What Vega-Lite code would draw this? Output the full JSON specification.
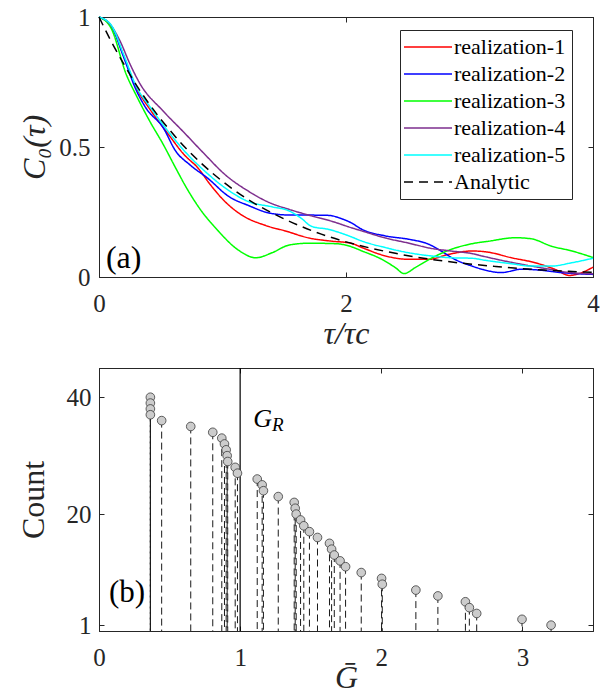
{
  "$schema": "https://vega.github.io/schema/vega-lite/v6.json",
  "padding": {"left": 16, "top": 4, "right": 3, "bottom": 0},
  "spacing": 16,
  "datasets": {
    "corr": [
      {"s":"realization-1","t":0,"c":1},{"s":"realization-1","t":0.1,"c":0.965},{"s":"realization-1","t":0.2,"c":0.85},{"s":"realization-1","t":0.3,"c":0.73},{"s":"realization-1","t":0.42,"c":0.64},{"s":"realization-1","t":0.56,"c":0.55},{"s":"realization-1","t":0.69,"c":0.47},{"s":"realization-1","t":0.8,"c":0.42},{"s":"realization-1","t":0.9,"c":0.356},{"s":"realization-1","t":1.01,"c":0.295},{"s":"realization-1","t":1.15,"c":0.24},{"s":"realization-1","t":1.35,"c":0.198},{"s":"realization-1","t":1.51,"c":0.177},{"s":"realization-1","t":1.7,"c":0.15},{"s":"realization-1","t":1.88,"c":0.138},{"s":"realization-1","t":2.04,"c":0.13},{"s":"realization-1","t":2.13,"c":0.113},{"s":"realization-1","t":2.32,"c":0.081},{"s":"realization-1","t":2.51,"c":0.068},{"s":"realization-1","t":2.67,"c":0.068},{"s":"realization-1","t":2.83,"c":0.087},{"s":"realization-1","t":3.02,"c":0.1},{"s":"realization-1","t":3.13,"c":0.097},{"s":"realization-1","t":3.34,"c":0.074},{"s":"realization-1","t":3.53,"c":0.055},{"s":"realization-1","t":3.69,"c":0.03},{"s":"realization-1","t":3.81,"c":0.006},{"s":"realization-1","t":3.91,"c":0.017},{"s":"realization-1","t":4.0,"c":0.038},
      {"s":"realization-2","t":0,"c":1},{"s":"realization-2","t":0.1,"c":0.965},{"s":"realization-2","t":0.2,"c":0.845},{"s":"realization-2","t":0.3,"c":0.72},{"s":"realization-2","t":0.38,"c":0.65},{"s":"realization-2","t":0.52,"c":0.574},{"s":"realization-2","t":0.62,"c":0.485},{"s":"realization-2","t":0.74,"c":0.43},{"s":"realization-2","t":0.88,"c":0.38},{"s":"realization-2","t":1.05,"c":0.31},{"s":"realization-2","t":1.21,"c":0.275},{"s":"realization-2","t":1.39,"c":0.245},{"s":"realization-2","t":1.56,"c":0.238},{"s":"realization-2","t":1.72,"c":0.238},{"s":"realization-2","t":1.86,"c":0.237},{"s":"realization-2","t":1.96,"c":0.225},{"s":"realization-2","t":2.04,"c":0.209},{"s":"realization-2","t":2.13,"c":0.183},{"s":"realization-2","t":2.32,"c":0.158},{"s":"realization-2","t":2.51,"c":0.145},{"s":"realization-2","t":2.67,"c":0.126},{"s":"realization-2","t":2.77,"c":0.1},{"s":"realization-2","t":2.88,"c":0.068},{"s":"realization-2","t":3.02,"c":0.042},{"s":"realization-2","t":3.1,"c":0.03},{"s":"realization-2","t":3.26,"c":0.017},{"s":"realization-2","t":3.42,"c":0.03},{"s":"realization-2","t":3.58,"c":0.026},{"s":"realization-2","t":3.74,"c":0.017},{"s":"realization-2","t":4.0,"c":0.01},
      {"s":"realization-3","t":0,"c":1},{"s":"realization-3","t":0.1,"c":0.955},{"s":"realization-3","t":0.22,"c":0.78},{"s":"realization-3","t":0.3,"c":0.7},{"s":"realization-3","t":0.41,"c":0.6},{"s":"realization-3","t":0.52,"c":0.51},{"s":"realization-3","t":0.62,"c":0.42},{"s":"realization-3","t":0.7,"c":0.35},{"s":"realization-3","t":0.82,"c":0.26},{"s":"realization-3","t":0.96,"c":0.18},{"s":"realization-3","t":1.13,"c":0.103},{"s":"realization-3","t":1.27,"c":0.074},{"s":"realization-3","t":1.4,"c":0.093},{"s":"realization-3","t":1.54,"c":0.123},{"s":"realization-3","t":1.7,"c":0.13},{"s":"realization-3","t":1.92,"c":0.128},{"s":"realization-3","t":2.04,"c":0.117},{"s":"realization-3","t":2.13,"c":0.1},{"s":"realization-3","t":2.29,"c":0.068},{"s":"realization-3","t":2.4,"c":0.036},{"s":"realization-3","t":2.47,"c":0.013},{"s":"realization-3","t":2.56,"c":0.036},{"s":"realization-3","t":2.69,"c":0.072},{"s":"realization-3","t":2.85,"c":0.106},{"s":"realization-3","t":3.02,"c":0.128},{"s":"realization-3","t":3.16,"c":0.138},{"s":"realization-3","t":3.37,"c":0.151},{"s":"realization-3","t":3.5,"c":0.147},{"s":"realization-3","t":3.66,"c":0.119},{"s":"realization-3","t":3.83,"c":0.1},{"s":"realization-3","t":4.0,"c":0.075},
      {"s":"realization-4","t":0,"c":1},{"s":"realization-4","t":0.09,"c":0.972},{"s":"realization-4","t":0.17,"c":0.908},{"s":"realization-4","t":0.25,"c":0.82},{"s":"realization-4","t":0.33,"c":0.745},{"s":"realization-4","t":0.52,"c":0.638},{"s":"realization-4","t":0.68,"c":0.56},{"s":"realization-4","t":0.84,"c":0.48},{"s":"realization-4","t":1.03,"c":0.39},{"s":"realization-4","t":1.21,"c":0.33},{"s":"realization-4","t":1.38,"c":0.286},{"s":"realization-4","t":1.54,"c":0.26},{"s":"realization-4","t":1.72,"c":0.235},{"s":"realization-4","t":1.88,"c":0.215},{"s":"realization-4","t":2.04,"c":0.19},{"s":"realization-4","t":2.13,"c":0.177},{"s":"realization-4","t":2.32,"c":0.15},{"s":"realization-4","t":2.51,"c":0.13},{"s":"realization-4","t":2.69,"c":0.11},{"s":"realization-4","t":2.85,"c":0.1},{"s":"realization-4","t":3.02,"c":0.09},{"s":"realization-4","t":3.1,"c":0.081},{"s":"realization-4","t":3.26,"c":0.064},{"s":"realization-4","t":3.42,"c":0.049},{"s":"realization-4","t":3.61,"c":0.033},{"s":"realization-4","t":3.81,"c":0.017},{"s":"realization-4","t":4.0,"c":0.012},
      {"s":"realization-5","t":0,"c":1},{"s":"realization-5","t":0.1,"c":0.968},{"s":"realization-5","t":0.2,"c":0.855},{"s":"realization-5","t":0.3,"c":0.735},{"s":"realization-5","t":0.42,"c":0.65},{"s":"realization-5","t":0.56,"c":0.56},{"s":"realization-5","t":0.72,"c":0.47},{"s":"realization-5","t":0.85,"c":0.41},{"s":"realization-5","t":1.02,"c":0.343},{"s":"realization-5","t":1.21,"c":0.29},{"s":"realization-5","t":1.4,"c":0.27},{"s":"realization-5","t":1.54,"c":0.254},{"s":"realization-5","t":1.64,"c":0.225},{"s":"realization-5","t":1.72,"c":0.195},{"s":"realization-5","t":1.86,"c":0.183},{"s":"realization-5","t":2.04,"c":0.155},{"s":"realization-5","t":2.13,"c":0.138},{"s":"realization-5","t":2.32,"c":0.113},{"s":"realization-5","t":2.51,"c":0.093},{"s":"realization-5","t":2.69,"c":0.081},{"s":"realization-5","t":2.85,"c":0.074},{"s":"realization-5","t":3.02,"c":0.072},{"s":"realization-5","t":3.13,"c":0.064},{"s":"realization-5","t":3.34,"c":0.051},{"s":"realization-5","t":3.5,"c":0.042},{"s":"realization-5","t":3.66,"c":0.042},{"s":"realization-5","t":3.83,"c":0.055},{"s":"realization-5","t":4.0,"c":0.072},
      {"s":"Analytic","t":0,"c":1},{"s":"Analytic","t":0.1,"c":0.905},{"s":"Analytic","t":0.2,"c":0.82},{"s":"Analytic","t":0.3,"c":0.74},{"s":"Analytic","t":0.4,"c":0.67},{"s":"Analytic","t":0.5,"c":0.607},{"s":"Analytic","t":0.6,"c":0.55},{"s":"Analytic","t":0.7,"c":0.497},{"s":"Analytic","t":0.8,"c":0.45},{"s":"Analytic","t":0.9,"c":0.407},{"s":"Analytic","t":1.0,"c":0.368},{"s":"Analytic","t":1.2,"c":0.3},{"s":"Analytic","t":1.4,"c":0.247},{"s":"Analytic","t":1.6,"c":0.202},{"s":"Analytic","t":1.8,"c":0.165},{"s":"Analytic","t":2.0,"c":0.135},{"s":"Analytic","t":2.2,"c":0.111},{"s":"Analytic","t":2.4,"c":0.091},{"s":"Analytic","t":2.6,"c":0.074},{"s":"Analytic","t":2.8,"c":0.061},{"s":"Analytic","t":3.0,"c":0.05},{"s":"Analytic","t":3.2,"c":0.041},{"s":"Analytic","t":3.4,"c":0.033},{"s":"Analytic","t":3.6,"c":0.027},{"s":"Analytic","t":3.8,"c":0.022},{"s":"Analytic","t":4.0,"c":0.018}
    ],
    "counts": [
      {"G":0.364,"n":40},{"G":0.364,"n":39},{"G":0.364,"n":38},{"G":0.364,"n":37},{"G":0.444,"n":36},{"G":0.65,"n":35},{"G":0.806,"n":34},{"G":0.87,"n":33},{"G":0.889,"n":32},{"G":0.901,"n":31},{"G":0.908,"n":30},{"G":0.912,"n":29},{"G":0.965,"n":28},{"G":0.981,"n":27},{"G":1.121,"n":26},{"G":1.156,"n":25},{"G":1.165,"n":24},{"G":1.27,"n":23},{"G":1.383,"n":22},{"G":1.39,"n":21},{"G":1.397,"n":20},{"G":1.428,"n":19},{"G":1.451,"n":18},{"G":1.491,"n":17},{"G":1.548,"n":16},{"G":1.633,"n":15},{"G":1.648,"n":14},{"G":1.667,"n":13},{"G":1.708,"n":12},{"G":1.747,"n":11},{"G":1.858,"n":10},{"G":2.002,"n":9},{"G":2.007,"n":8},{"G":2.245,"n":7},{"G":2.401,"n":6},{"G":2.596,"n":5},{"G":2.624,"n":4},{"G":2.676,"n":3},{"G":2.997,"n":2},{"G":3.203,"n":1}
    ]
  },
  "vconcat": [
    {
      "width": 494,
      "height": 260,
      "data": {"name": "corr"},
      "layer": [
        {
          "mark": {"type": "line", "interpolate": "monotone", "strokeWidth": 1.5},
          "encoding": {
            "x": {"field": "t", "type": "quantitative", "scale": {"domain": [0, 4], "nice": false},
                  "axis": {"orient": "bottom", "values": [0, 2, 4], "title": "τ/τc", "titleFontStyle": "italic", "labelPadding": 19, "titlePadding": 2, "labelExpr": "'' + datum.value"}},
            "y": {"field": "c", "type": "quantitative", "scale": {"domain": [0, 1], "nice": false},
                  "axis": {"orient": "left", "values": [0, 0.5, 1], "title": "C₀(τ)", "titleFontStyle": "italic", "labelPadding": 14, "titlePadding": 7, "labelExpr": "'' + datum.value"}},
            "color": {"field": "s", "type": "nominal",
                      "scale": {"domain": ["realization-1", "realization-2", "realization-3", "realization-4", "realization-5", "Analytic"],
                                "range": ["#ff0000", "#0000ff", "#00ff00", "#7e2f8e", "#00ffff", "#000000"]},
                      "legend": {"orient": "none", "legendX": 301, "legendY": 13, "title": null, "symbolType": "M-4.8,0H4.8", "symbolSize": 100, "symbolStrokeWidth": 1.5, "symbolOffset": 11, "labelOffset": 15, "labelFontSize": 22, "labelFont": "Liberation Serif", "labelColor": "#000000", "strokeColor": "#262626", "fillColor": "#ffffff", "padding": 6, "rowPadding": 5}},
            "strokeDash": {"field": "s", "type": "nominal",
                      "scale": {"domain": ["realization-1", "realization-2", "realization-3", "realization-4", "realization-5", "Analytic"],
                                "range": [[1, 0], [1, 0], [1, 0], [1, 0], [1, 0], [9, 6]]},
                      "legend": {"orient": "none", "legendX": 301, "legendY": 13, "title": null, "symbolType": "M-4.8,0H4.8", "symbolSize": 100, "symbolStrokeWidth": 1.5, "symbolOffset": 11, "labelOffset": 15, "labelFontSize": 22, "labelFont": "Liberation Serif", "labelColor": "#000000", "strokeColor": "#262626", "fillColor": "#ffffff", "padding": 6, "rowPadding": 5}}
          }
        },
        {
          "data": {"values": [{}]},
          "mark": {"type": "text", "text": "(a)", "fontSize": 32, "align": "left", "baseline": "alphabetic", "font": "Liberation Serif", "color": "#000000"},
          "encoding": {
            "x": {"datum": 0.056, "type": "quantitative", "axis": {"orient": "top", "labels": false, "title": null, "values": [0, 2, 4]}},
            "y": {"datum": 0.036, "type": "quantitative", "axis": {"orient": "right", "labels": false, "title": null, "values": [0, 0.5, 1]}}
          }
        }
      ],
      "resolve": {"axis": {"x": "independent", "y": "independent"}}
    },
    {
      "width": 494,
      "height": 263,
      "data": {"name": "counts"},
      "layer": [
        {
          "mark": {"type": "rule", "strokeDash": [7, 4], "strokeWidth": 1, "color": "#1a1a1a"},
          "encoding": {
            "x": {"field": "G", "type": "quantitative", "scale": {"domain": [0, 3.5], "nice": false},
                  "axis": {"orient": "bottom", "values": [0, 1, 2, 3], "title": "Ḡ", "titleFontStyle": "italic", "labelPadding": 19, "titlePadding": -8, "labelExpr": "'' + datum.value"}},
            "y": {"field": "n", "type": "quantitative", "scale": {"domain": [0, 45], "nice": false},
                  "axis": {"orient": "left", "values": [1, 20, 40], "title": "Count", "labelPadding": 13, "titlePadding": 16, "labelExpr": "'' + datum.value"}},
            "y2": {"datum": 0}
          }
        },
        {
          "data": {"values": [{}]},
          "mark": {"type": "rule", "color": "#000000", "strokeWidth": 1.2},
          "encoding": {"x": {"datum": 1, "type": "quantitative", "axis": null}}
        },
        {
          "mark": {"type": "point", "shape": "circle", "filled": true, "size": 75, "fill": "#cccccc", "stroke": "#3a3a3a", "strokeWidth": 0.8, "opacity": 1},
          "encoding": {
            "x": {"field": "G", "type": "quantitative", "axis": null},
            "y": {"field": "n", "type": "quantitative", "axis": null}
          }
        },
        {
          "data": {"values": [{}]},
          "mark": {"type": "text", "text": "G", "fontSize": 26, "fontStyle": "italic", "align": "left", "baseline": "alphabetic", "font": "Liberation Serif", "color": "#000000"},
          "encoding": {
            "x": {"datum": 1.092, "type": "quantitative", "axis": null},
            "y": {"datum": 34.9, "type": "quantitative", "axis": null}
          }
        },
        {
          "data": {"values": [{}]},
          "mark": {"type": "text", "text": "R", "fontSize": 19, "fontStyle": "italic", "align": "left", "baseline": "alphabetic", "font": "Liberation Serif", "color": "#000000"},
          "encoding": {
            "x": {"datum": 1.225, "type": "quantitative", "axis": null},
            "y": {"datum": 34.2, "type": "quantitative", "axis": null}
          }
        },
        {
          "data": {"values": [{}]},
          "mark": {"type": "text", "text": "(b)", "fontSize": 31, "align": "left", "baseline": "alphabetic", "font": "Liberation Serif", "color": "#000000"},
          "encoding": {
            "x": {"datum": 0.07, "type": "quantitative", "axis": {"orient": "top", "labels": false, "title": null, "values": [0, 1, 2, 3]}},
            "y": {"datum": 4.96, "type": "quantitative", "axis": {"orient": "right", "labels": false, "title": null, "values": [1, 20, 40]}}
          }
        }
      ],
      "resolve": {"axis": {"x": "independent", "y": "independent"}}
    }
  ],
  "config": {
    "font": "Liberation Serif",
    "view": {"stroke": "#262626", "strokeWidth": 1},
    "axis": {"grid": false, "domainColor": "#262626", "tickColor": "#262626", "labelColor": "#262626", "titleColor": "#262626",
             "labelFont": "Liberation Serif", "titleFont": "Liberation Serif", "labelFontSize": 25, "titleFontSize": 32, "titleFontWeight": "normal",
             "tickSize": -5, "domainWidth": 1, "tickWidth": 1, "labelFlush": false, "labelOverlap": false}
  }
}
